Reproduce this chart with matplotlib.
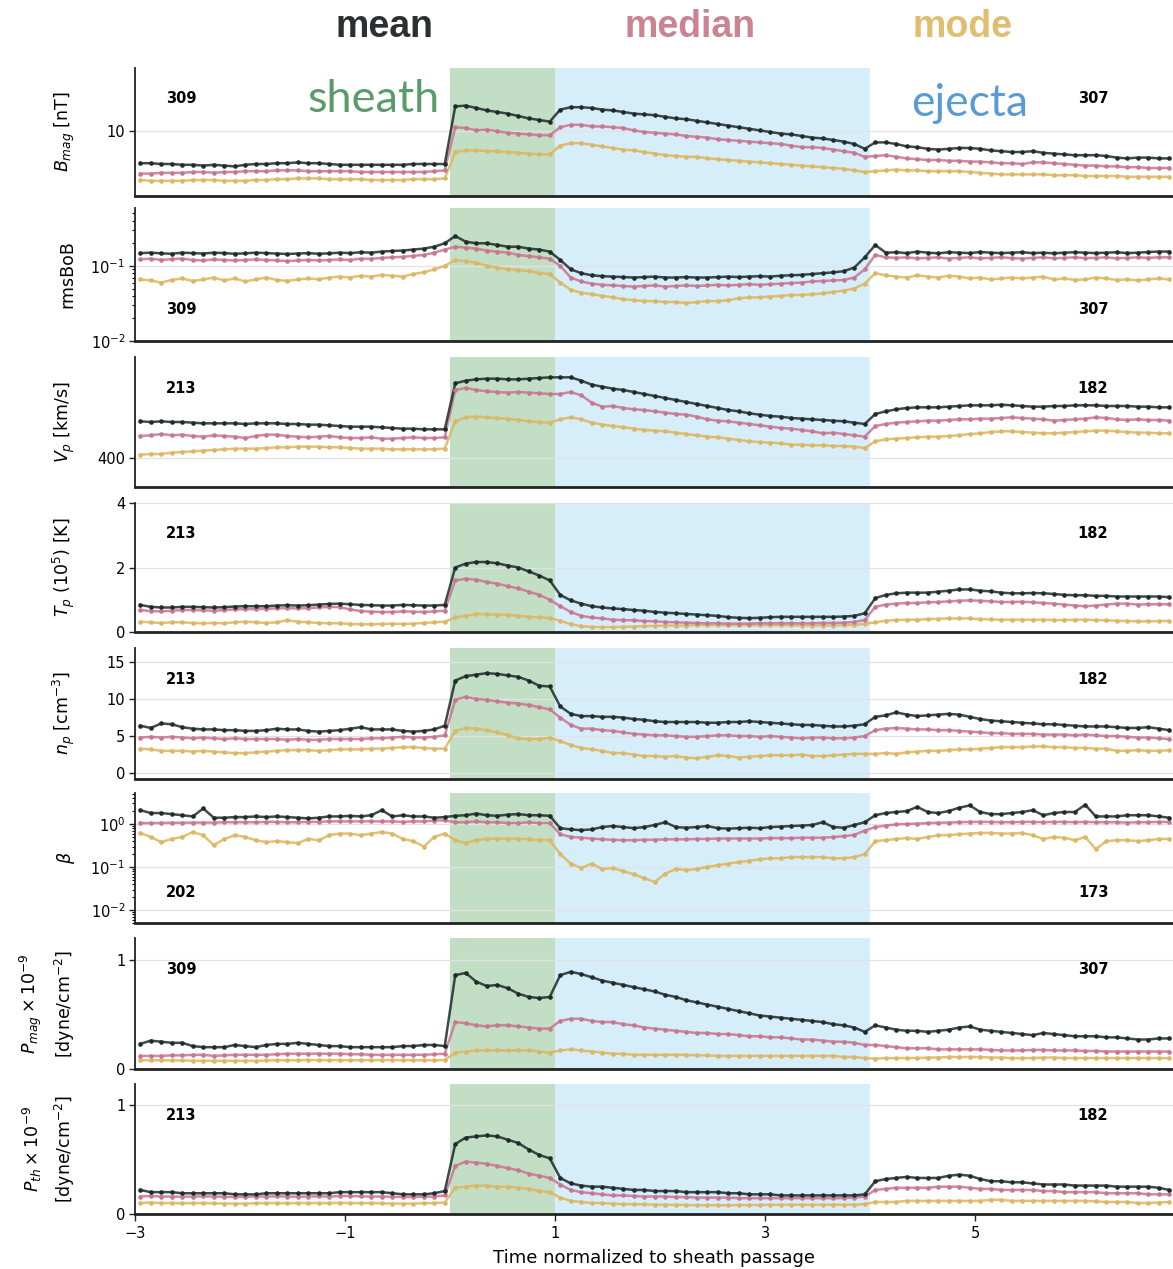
import numpy as np
import matplotlib
matplotlib.use("Agg")
import matplotlib.pyplot as plt
from matplotlib.ticker import LogLocator, NullFormatter, FixedLocator

# ---------------- data (bins of 0.1 normalized time, centres -2.95 ... 6.85) ----------------
time = np.linspace(-2.95, 6.85, 99)

B_mean = [6.0, 6.0, 5.9, 5.9, 5.8, 5.8, 5.7, 5.8, 5.7, 5.6, 5.8, 5.9, 5.9, 6.0, 6.0, 6.1, 6.0, 6.0, 5.9, 5.8, 5.8, 5.8, 5.8, 5.8, 5.8, 5.8, 5.9, 5.9, 5.9, 5.9,
          13.1, 13.2, 12.9, 12.6, 12.4, 12.2, 11.9, 11.6, 11.4, 11.2,
          12.7, 13.0, 13.0, 12.9, 12.7, 12.6, 12.4, 12.2, 12.1, 12.0, 11.8, 11.6, 11.5, 11.3, 11.1, 10.9, 10.7, 10.5, 10.3, 10.1, 9.9, 9.7, 9.6, 9.4, 9.2, 9.1, 8.9, 8.7, 8.4, 7.8,
          8.6, 8.6, 8.4, 8.1, 8.0, 7.8, 7.7, 7.8, 7.9, 7.9, 7.8, 7.6, 7.5, 7.4, 7.4, 7.5, 7.3, 7.2, 7.1, 7.0, 7.0, 7.0, 6.9, 6.7, 6.6, 6.7, 6.7, 6.6, 6.6]
B_median = [4.7, 4.7, 4.8, 4.8, 4.8, 4.9, 4.9, 4.8, 4.9, 4.9, 5.0, 5.0, 5.0, 5.1, 5.1, 5.1, 5.0, 5.0, 5.0, 5.0, 5.0, 4.9, 4.9, 4.9, 4.9, 4.9, 4.9, 4.9, 5.0, 5.1,
            10.5, 10.4, 10.1, 10.2, 10.0, 9.8, 9.7, 9.6, 9.5, 9.5,
            10.5, 10.8, 10.8, 10.6, 10.6, 10.5, 10.4, 10.1, 9.9, 9.8, 9.7, 9.6, 9.4, 9.3, 9.2, 9.0, 8.9, 8.8, 8.7, 8.6, 8.5, 8.4, 8.2, 8.0, 8.0, 7.9, 7.7, 7.5, 7.3, 6.8,
            6.9, 7.0, 6.8, 6.6, 6.5, 6.4, 6.4, 6.3, 6.3, 6.2, 6.2, 6.1, 6.0, 6.0, 5.9, 6.1, 6.1, 6.0, 5.9, 5.8, 5.7, 5.7, 5.6, 5.6, 5.5, 5.5, 5.4, 5.4, 5.4]
B_mode = [3.9, 3.8, 3.8, 3.8, 3.8, 3.9, 3.9, 3.9, 3.8, 3.8, 3.8, 3.9, 3.9, 4.0, 4.0, 4.1, 4.1, 4.1, 4.0, 4.0, 4.0, 4.0, 3.9, 3.9, 3.9, 3.9, 4.0, 4.0, 4.0, 4.1,
          7.4, 7.6, 7.6, 7.5, 7.5, 7.4, 7.3, 7.2, 7.1, 7.1,
          8.2, 8.5, 8.5, 8.3, 8.1, 7.9, 7.7, 7.6, 7.4, 7.2, 7.0, 6.9, 6.8, 6.8, 6.6, 6.5, 6.4, 6.3, 6.2, 6.1, 6.0, 5.9, 5.8, 5.7, 5.6, 5.5, 5.4, 5.3, 5.1, 4.9,
          5.0, 5.1, 5.2, 5.1, 5.1, 5.0, 5.0, 5.0, 5.0, 4.9, 4.8, 4.7, 4.6, 4.6, 4.6, 4.6, 4.6, 4.5, 4.5, 4.5, 4.4, 4.4, 4.4, 4.4, 4.3, 4.3, 4.3, 4.3, 4.3]

rms_mean = [0.148, 0.15, 0.147, 0.145, 0.15, 0.148, 0.146, 0.15, 0.148, 0.145, 0.147, 0.15, 0.148, 0.146, 0.144, 0.146, 0.148, 0.145, 0.147, 0.15, 0.148, 0.152, 0.15, 0.155, 0.158, 0.16, 0.165, 0.17, 0.18, 0.2,
            0.25, 0.21, 0.2, 0.2, 0.19, 0.18, 0.18, 0.17, 0.165, 0.155,
            0.12, 0.09, 0.08, 0.075, 0.073, 0.072, 0.071, 0.07, 0.071, 0.072, 0.07, 0.07, 0.071, 0.07, 0.07, 0.071, 0.072, 0.071, 0.072, 0.073, 0.072, 0.074, 0.075, 0.076, 0.078, 0.08, 0.082, 0.085, 0.095, 0.13,
            0.19, 0.15, 0.152, 0.148, 0.155, 0.15, 0.147, 0.152, 0.15, 0.148, 0.153, 0.15, 0.148, 0.15, 0.152, 0.148, 0.15, 0.147, 0.15, 0.152, 0.15, 0.148, 0.15, 0.152, 0.148, 0.15, 0.153, 0.155, 0.155]
rms_median = [0.122, 0.125, 0.12, 0.123, 0.125, 0.12, 0.118, 0.122, 0.12, 0.118, 0.12, 0.122, 0.12, 0.118, 0.116, 0.118, 0.12, 0.118, 0.12, 0.122, 0.12, 0.125, 0.124, 0.128, 0.13, 0.132, 0.136, 0.14, 0.15, 0.165,
              0.18, 0.175, 0.17, 0.16, 0.155, 0.15, 0.14, 0.135, 0.13, 0.125,
              0.1, 0.07, 0.062, 0.058, 0.056, 0.055, 0.054, 0.053, 0.054, 0.055, 0.053, 0.054, 0.055, 0.054, 0.055, 0.056, 0.055, 0.056, 0.057, 0.056, 0.057, 0.058, 0.059, 0.06, 0.062, 0.063, 0.064, 0.065, 0.07, 0.09,
              0.14, 0.13, 0.128, 0.13, 0.126, 0.128, 0.13, 0.125, 0.128, 0.13, 0.126, 0.128, 0.13, 0.127, 0.125, 0.128, 0.13, 0.126, 0.128, 0.13, 0.127, 0.128, 0.13, 0.126, 0.128, 0.13, 0.128, 0.13, 0.13]
rms_mode = [0.066, 0.064, 0.06, 0.065, 0.068, 0.063, 0.066, 0.07, 0.064, 0.068, 0.062, 0.066, 0.07, 0.065, 0.063, 0.066, 0.068, 0.066, 0.07, 0.072, 0.07, 0.074, 0.072, 0.076, 0.074, 0.072, 0.078, 0.082, 0.09, 0.1,
            0.12, 0.115, 0.11, 0.1, 0.095, 0.09, 0.088, 0.085, 0.08, 0.078,
            0.06, 0.048, 0.044, 0.042, 0.04, 0.038, 0.036, 0.035, 0.034, 0.034, 0.033, 0.033, 0.032, 0.033, 0.034, 0.034, 0.035, 0.037, 0.038, 0.038, 0.039, 0.04, 0.041, 0.041, 0.042, 0.043, 0.045, 0.047, 0.05, 0.058,
            0.08, 0.075, 0.072, 0.07, 0.075, 0.072, 0.07, 0.074, 0.072, 0.068, 0.07, 0.066, 0.068, 0.07, 0.068, 0.07, 0.072, 0.066, 0.068, 0.065, 0.066, 0.07, 0.068, 0.065, 0.066, 0.064, 0.066, 0.068, 0.066]

V_mean = [455, 454, 455, 454, 454, 453, 452, 452, 452, 452, 451, 452, 452, 452, 451, 451, 450, 450, 449, 448, 447, 447, 447, 446, 445, 444, 444, 443, 443, 443,
          512, 516, 518, 519, 519, 518, 518, 519, 520, 521,
          521, 521, 516, 510, 507, 504, 502, 499, 496, 493, 490, 487, 484, 481, 478, 475, 472, 470, 467, 465, 463, 462, 460, 459, 458, 457, 456, 455, 453, 451,
          466, 470, 473, 475, 476, 476, 476, 477, 478, 479, 479, 479, 480, 479, 478, 477, 477, 478, 478, 479, 479, 479, 478, 478, 478, 477, 477, 476, 476]
V_median = [433, 434, 436, 434, 435, 433, 432, 434, 433, 432, 430, 433, 435, 435, 433, 432, 431, 432, 433, 431, 430, 430, 431, 429, 429, 430, 431, 430, 430, 431,
            502, 505, 502, 500, 499, 498, 499, 498, 497, 496,
            496, 499, 494, 483, 477, 478, 475, 473, 472, 470, 468, 466, 465, 462, 458, 456, 455, 453, 451, 449, 447, 445, 444, 442, 440, 437, 438, 436, 434, 432,
            448, 451, 453, 454, 455, 456, 456, 457, 458, 458, 459, 459, 460, 461, 460, 459, 458, 456, 457, 458, 459, 461, 460, 458, 457, 458, 457, 457, 456]
V_mode = [405, 406, 406, 408, 409, 410, 411, 412, 413, 414, 414, 414, 415, 416, 416, 417, 417, 417, 416, 416, 415, 414, 414, 414, 413, 413, 413, 413, 413, 414,
          455, 461, 462, 461, 460, 459, 457, 455, 454, 453,
          458, 461, 458, 453, 450, 448, 446, 444, 442, 441, 440, 438, 436, 434, 432, 431, 429, 427, 425, 424, 423, 422, 420, 420, 419, 419, 418, 418, 417, 415,
          425, 428, 429, 430, 431, 432, 432, 433, 434, 436, 437, 439, 440, 440, 439, 438, 437, 437, 438, 439, 440, 441, 441, 440, 439, 438, 438, 437, 437]

T_mean = [0.84, 0.78, 0.76, 0.76, 0.78, 0.78, 0.77, 0.76, 0.77, 0.79, 0.8, 0.8, 0.8, 0.82, 0.83, 0.82, 0.83, 0.85, 0.87, 0.88, 0.86, 0.84, 0.83, 0.82, 0.82, 0.84, 0.83, 0.82, 0.82, 0.84,
          2.0, 2.12, 2.17, 2.17, 2.13, 2.06, 2.0, 1.88, 1.75, 1.6,
          1.15, 0.98, 0.88, 0.8, 0.76, 0.73, 0.71, 0.68, 0.66, 0.62, 0.6, 0.58, 0.56, 0.54, 0.52, 0.5, 0.46, 0.44, 0.43, 0.44, 0.46, 0.47, 0.47, 0.47, 0.47, 0.47, 0.47, 0.48, 0.5, 0.58,
          1.05, 1.15, 1.2, 1.22, 1.22, 1.22, 1.25, 1.28, 1.32, 1.32, 1.28, 1.26, 1.22, 1.2, 1.2, 1.21, 1.2, 1.18, 1.15, 1.14, 1.14, 1.12, 1.12, 1.1, 1.1, 1.1, 1.1, 1.1, 1.08]
T_median = [0.68, 0.65, 0.64, 0.66, 0.68, 0.68, 0.67, 0.66, 0.68, 0.7, 0.71, 0.71, 0.72, 0.73, 0.74, 0.73, 0.74, 0.76, 0.78, 0.77, 0.7, 0.65, 0.63, 0.62, 0.62, 0.64, 0.63, 0.62, 0.64, 0.66,
            1.6, 1.65, 1.62, 1.55, 1.5, 1.42, 1.35, 1.25, 1.15, 1.0,
            0.8, 0.62, 0.5, 0.45, 0.42, 0.38, 0.37, 0.36, 0.34, 0.33, 0.31, 0.3, 0.29, 0.28, 0.27, 0.27, 0.26, 0.26, 0.26, 0.27, 0.27, 0.27, 0.27, 0.27, 0.27, 0.28, 0.28, 0.29, 0.31, 0.37,
            0.78, 0.85, 0.88, 0.9, 0.9, 0.92, 0.93, 0.95, 0.97, 0.98, 0.97, 0.95, 0.93, 0.93, 0.94, 0.92, 0.9, 0.88, 0.85, 0.82, 0.8, 0.82, 0.85, 0.88, 0.88, 0.85, 0.86, 0.86, 0.86]
T_mode = [0.32, 0.3, 0.28, 0.3, 0.3, 0.28, 0.27, 0.28, 0.27, 0.3, 0.32, 0.3, 0.28, 0.3, 0.36, 0.32, 0.3, 0.28, 0.27, 0.27, 0.25, 0.24, 0.24, 0.25, 0.26, 0.25, 0.26, 0.28, 0.3, 0.32,
          0.45, 0.5, 0.56, 0.55, 0.54, 0.53, 0.5, 0.47, 0.46, 0.43,
          0.35, 0.24, 0.18, 0.16, 0.15, 0.15, 0.16, 0.17, 0.18, 0.19, 0.2, 0.2, 0.2, 0.21, 0.21, 0.21, 0.21, 0.21, 0.21, 0.21, 0.21, 0.21, 0.21, 0.2, 0.2, 0.2, 0.2, 0.21, 0.22, 0.25,
          0.3, 0.35, 0.37, 0.38, 0.38, 0.4, 0.41, 0.42, 0.42, 0.42, 0.4, 0.39, 0.38, 0.38, 0.38, 0.38, 0.38, 0.37, 0.37, 0.38, 0.38, 0.37, 0.36, 0.35, 0.34, 0.33, 0.33, 0.34, 0.34]

n_mean = [6.4, 6.1, 6.7, 6.6, 6.2, 6.0, 5.9, 5.9, 5.8, 5.8, 5.7, 5.7, 5.8, 6.0, 5.9, 5.9, 5.7, 5.6, 5.7, 5.8, 6.0, 6.2, 5.9, 5.9, 5.9, 5.7, 5.6, 5.7, 5.9, 6.4,
          12.5, 13.1, 13.3, 13.5, 13.4, 13.2, 13.0, 12.5, 11.8, 11.7,
          9.0, 8.0, 7.7, 7.7, 7.6, 7.6, 7.5, 7.3, 7.2, 7.0, 6.9, 6.9, 6.9, 6.9, 6.8, 6.8, 6.9, 6.9, 7.0, 6.9, 6.8, 6.7, 6.6, 6.5, 6.5, 6.4, 6.3, 6.3, 6.4, 6.6,
          7.6, 7.8, 8.2, 7.9, 7.7, 7.8, 7.9, 8.0, 7.9, 7.6, 7.3, 7.1, 7.0, 6.9, 6.8, 6.7, 6.6, 6.6, 6.5, 6.4, 6.3, 6.3, 6.3, 6.2, 6.1, 6.1, 6.2, 6.0, 5.8]
n_median = [4.8, 4.9, 4.8, 4.9, 4.8, 4.7, 4.8, 4.7, 4.6, 4.7, 4.6, 4.6, 4.6, 4.6, 4.5, 4.6, 4.5, 4.5, 4.6, 4.6, 4.6, 4.6, 4.7, 4.7, 4.8, 4.9, 4.8, 4.8, 4.9, 5.1,
            9.9, 10.3, 10.0, 9.9, 9.7, 9.5, 9.4, 9.2, 8.9, 8.6,
            7.5, 6.5, 6.0, 6.0, 5.8, 5.7, 5.5, 5.3, 5.2, 5.1, 5.1, 5.0, 4.9, 4.9, 5.0, 5.1, 5.1, 5.0, 5.0, 4.9, 5.0, 4.9, 4.8, 4.7, 4.8, 4.8, 4.7, 4.7, 4.8, 5.0,
            5.8, 6.0, 6.1, 6.0, 5.9, 5.9, 5.8, 5.8, 5.7, 5.6, 5.5, 5.4, 5.4, 5.3, 5.3, 5.3, 5.2, 5.2, 5.2, 5.1, 5.2, 5.1, 5.0, 5.0, 4.9, 4.8, 4.8, 4.7, 4.6]
n_mode = [3.3, 3.2, 3.0, 3.0, 3.0, 2.9, 3.0, 2.9, 2.8, 2.7, 2.7, 2.8, 2.9, 3.0, 3.1, 3.1, 3.1, 3.0, 3.1, 3.2, 3.2, 3.2, 3.3, 3.3, 3.4, 3.5, 3.5, 3.4, 3.3, 3.3,
          5.7, 6.1, 6.0, 5.8, 5.5, 5.1, 4.7, 4.6, 4.6, 4.8,
          4.3, 3.8, 3.4, 3.2, 3.0, 2.7, 2.7, 2.5, 2.3, 2.3, 2.2, 2.3, 2.1, 2.0, 2.2, 2.4, 2.3, 2.1, 2.2, 2.3, 2.4, 2.4, 2.4, 2.5, 2.3, 2.3, 2.4, 2.5, 2.6, 2.6,
          2.6, 2.7, 2.6, 2.8, 2.9, 3.0, 3.0, 3.1, 3.2, 3.2, 3.3, 3.4, 3.5, 3.5, 3.5, 3.6, 3.6, 3.5, 3.5, 3.4, 3.4, 3.3, 3.3, 3.0, 3.0, 3.1, 3.0, 3.0, 3.1]

beta_mean = [2.1, 1.8, 1.8, 1.7, 1.6, 1.5, 2.3, 1.4, 1.4, 1.45, 1.45, 1.5, 1.45, 1.5, 1.45, 1.4, 1.35, 1.4, 1.5, 1.5, 1.55, 1.5, 1.6, 2.1, 1.5, 1.6, 1.5, 1.5, 1.4, 1.45,
             1.55, 1.6, 1.75, 1.6, 1.55, 1.65, 1.7, 1.6, 1.6, 1.55,
             0.8, 0.75, 0.72, 0.75, 0.85, 0.9, 0.85, 0.8, 0.85, 0.95, 1.1, 0.85, 0.82, 0.85, 0.9, 0.8, 0.78, 0.8, 0.82, 0.8, 0.85, 0.87, 0.9, 0.92, 0.95, 1.1, 0.85, 0.82, 0.95, 1.1,
             1.6, 1.8, 1.9, 2.0, 2.5, 1.9, 1.8, 2.0, 2.4, 2.7, 1.9, 1.7, 1.7, 1.8, 1.9, 2.1, 1.6, 1.8, 1.9, 1.9, 2.8, 1.5, 1.5, 1.5, 1.6, 1.6, 1.6, 1.5, 1.4]
beta_median = [1.05, 1.05, 1.06, 1.07, 1.07, 1.08, 1.08, 1.08, 1.1, 1.1, 1.1, 1.1, 1.12, 1.12, 1.1, 1.1, 1.12, 1.12, 1.15, 1.15, 1.15, 1.15, 1.15, 1.15, 1.15, 1.12, 1.15, 1.15, 1.2, 1.22,
               1.1, 1.1, 1.15, 1.1, 1.1, 1.05, 1.05, 1.1, 1.05, 1.05,
               0.58, 0.5, 0.48, 0.46, 0.44, 0.43, 0.42, 0.42, 0.43, 0.43, 0.44, 0.44, 0.44, 0.45, 0.45, 0.46, 0.46, 0.46, 0.46, 0.46, 0.47, 0.47, 0.47, 0.48, 0.48, 0.48, 0.5, 0.52, 0.56, 0.7,
               0.85, 0.92, 0.98, 1.0, 1.02, 1.05, 1.07, 1.08, 1.1, 1.12, 1.12, 1.12, 1.1, 1.1, 1.12, 1.12, 1.1, 1.12, 1.12, 1.1, 1.12, 1.1, 1.1, 1.1, 1.08, 1.1, 1.1, 1.12, 1.12]
beta_mode = [0.62, 0.5, 0.38, 0.45, 0.5, 0.65, 0.55, 0.32, 0.45, 0.55, 0.5, 0.42, 0.38, 0.4, 0.38, 0.36, 0.45, 0.42, 0.55, 0.6, 0.6, 0.55, 0.6, 0.65, 0.6, 0.45, 0.4, 0.3, 0.5, 0.6,
             0.42, 0.36, 0.42, 0.45, 0.46, 0.45, 0.46, 0.44, 0.43, 0.42,
             0.2, 0.12, 0.095, 0.12, 0.09, 0.095, 0.08, 0.068, 0.055, 0.045, 0.07, 0.09, 0.085, 0.09, 0.1, 0.11, 0.12, 0.13, 0.14, 0.15, 0.16, 0.16, 0.17, 0.17, 0.17, 0.17, 0.16, 0.16, 0.17, 0.2,
             0.4, 0.42, 0.45, 0.47, 0.45, 0.5, 0.55, 0.55, 0.58, 0.6, 0.62, 0.62, 0.6, 0.6, 0.62, 0.55, 0.45, 0.5, 0.48, 0.42, 0.5, 0.26, 0.4, 0.42, 0.42, 0.4, 0.42, 0.45, 0.45]

Pmag_mean = [0.23, 0.26, 0.25, 0.24, 0.24, 0.21, 0.2, 0.2, 0.2, 0.22, 0.21, 0.2, 0.22, 0.23, 0.23, 0.24, 0.23, 0.22, 0.21, 0.21, 0.2, 0.2, 0.2, 0.2, 0.2, 0.21, 0.21, 0.22, 0.22, 0.21,
             0.86, 0.88, 0.8, 0.76, 0.77, 0.74, 0.69, 0.66, 0.65, 0.66,
             0.86, 0.89, 0.87, 0.84, 0.81, 0.79, 0.77, 0.75, 0.73, 0.71, 0.68, 0.66, 0.63, 0.61, 0.59, 0.57, 0.55, 0.53, 0.51, 0.49, 0.48, 0.47, 0.46, 0.45, 0.44, 0.43, 0.41, 0.4, 0.38, 0.34,
             0.4, 0.38, 0.36, 0.35, 0.35, 0.34, 0.35, 0.36, 0.38, 0.39, 0.36, 0.35, 0.34, 0.33, 0.32, 0.31, 0.33, 0.32, 0.31, 0.3, 0.3, 0.3, 0.29, 0.29, 0.28, 0.27, 0.27, 0.28, 0.28]
Pmag_median = [0.12, 0.12, 0.12, 0.125, 0.125, 0.13, 0.13, 0.12, 0.125, 0.13, 0.13, 0.13, 0.13, 0.135, 0.14, 0.14, 0.14, 0.14, 0.14, 0.14, 0.135, 0.135, 0.13, 0.13, 0.13, 0.13, 0.13, 0.13, 0.135, 0.14,
               0.43, 0.42, 0.4, 0.39, 0.4, 0.4, 0.39, 0.38, 0.37, 0.37,
               0.44, 0.46, 0.46, 0.44, 0.43, 0.43, 0.41, 0.4, 0.38, 0.37, 0.36, 0.35, 0.34, 0.33, 0.33, 0.32, 0.32, 0.31, 0.3, 0.3, 0.29, 0.29, 0.28, 0.27, 0.27, 0.26, 0.25, 0.25, 0.24, 0.22,
               0.22, 0.21, 0.2, 0.19, 0.19, 0.19, 0.18, 0.18, 0.18, 0.18, 0.18, 0.175, 0.17, 0.17, 0.17, 0.175, 0.175, 0.17, 0.17, 0.17, 0.165, 0.165, 0.16, 0.16, 0.16, 0.16, 0.16, 0.16, 0.16]
Pmag_mode = [0.08, 0.08, 0.08, 0.078, 0.078, 0.076, 0.076, 0.075, 0.075, 0.075, 0.075, 0.074, 0.078, 0.08, 0.08, 0.08, 0.082, 0.082, 0.08, 0.08, 0.08, 0.08, 0.08, 0.082, 0.082, 0.08, 0.08, 0.08, 0.08, 0.082,
             0.15, 0.16, 0.17, 0.17, 0.17, 0.17, 0.17, 0.17, 0.16, 0.15,
             0.17, 0.18, 0.17, 0.16, 0.15, 0.14, 0.14, 0.13, 0.13, 0.13, 0.13, 0.13, 0.13, 0.125, 0.125, 0.12, 0.12, 0.12, 0.12, 0.12, 0.12, 0.12, 0.12, 0.12, 0.12, 0.12, 0.12, 0.11, 0.11, 0.1,
             0.095, 0.1, 0.1, 0.1, 0.1, 0.105, 0.105, 0.11, 0.11, 0.11, 0.11, 0.105, 0.105, 0.1, 0.1, 0.1, 0.105, 0.105, 0.1, 0.1, 0.1, 0.1, 0.1, 0.1, 0.1, 0.1, 0.1, 0.1, 0.1]

Pth_mean = [0.22, 0.2, 0.2, 0.2, 0.19, 0.19, 0.19, 0.19, 0.19, 0.18, 0.18, 0.18, 0.19, 0.19, 0.19, 0.19, 0.19, 0.19, 0.19, 0.2, 0.2, 0.2, 0.2, 0.2, 0.19, 0.18, 0.18, 0.18, 0.19, 0.21,
            0.64, 0.7, 0.71, 0.72, 0.71, 0.68, 0.65, 0.59, 0.54, 0.51,
            0.33, 0.28, 0.26, 0.25, 0.25, 0.24, 0.23, 0.22, 0.22, 0.21, 0.21, 0.21, 0.2, 0.2, 0.2, 0.2, 0.19, 0.19, 0.18, 0.18, 0.18, 0.17, 0.17, 0.17, 0.17, 0.17, 0.17, 0.17, 0.17, 0.18,
            0.3, 0.32, 0.33, 0.34, 0.33, 0.33, 0.33, 0.35, 0.36, 0.35, 0.32, 0.3, 0.3, 0.29, 0.29, 0.28, 0.27, 0.27, 0.27, 0.26, 0.26, 0.26, 0.26, 0.25, 0.25, 0.25, 0.25, 0.24, 0.22]
Pth_median = [0.16, 0.165, 0.16, 0.16, 0.158, 0.16, 0.162, 0.16, 0.158, 0.155, 0.158, 0.16, 0.16, 0.162, 0.16, 0.158, 0.16, 0.162, 0.16, 0.165, 0.165, 0.162, 0.16, 0.16, 0.158, 0.155, 0.155, 0.158, 0.16, 0.17,
              0.44, 0.48, 0.47, 0.46, 0.44, 0.42, 0.4, 0.37, 0.35, 0.33,
              0.27, 0.22, 0.2, 0.19, 0.18, 0.17, 0.17, 0.165, 0.16, 0.16, 0.16, 0.155, 0.155, 0.15, 0.15, 0.15, 0.15, 0.145, 0.145, 0.145, 0.145, 0.145, 0.145, 0.145, 0.145, 0.145, 0.145, 0.145, 0.15, 0.16,
              0.22, 0.23, 0.24, 0.24, 0.24, 0.24, 0.25, 0.25, 0.25, 0.24, 0.23, 0.23, 0.22, 0.22, 0.22, 0.22, 0.21, 0.21, 0.2, 0.2, 0.2, 0.2, 0.19, 0.19, 0.19, 0.19, 0.18, 0.18, 0.18]
Pth_mode = [0.1, 0.105, 0.1, 0.1, 0.098, 0.1, 0.1, 0.098, 0.096, 0.095, 0.096, 0.098, 0.1, 0.1, 0.098, 0.1, 0.1, 0.1, 0.1, 0.102, 0.1, 0.1, 0.1, 0.098, 0.096, 0.095, 0.096, 0.098, 0.1, 0.105,
            0.24, 0.25, 0.26, 0.26, 0.25, 0.25, 0.24, 0.23, 0.21, 0.2,
            0.15, 0.12, 0.11, 0.1, 0.1, 0.095, 0.09, 0.09, 0.088, 0.085, 0.085, 0.083, 0.083, 0.08, 0.08, 0.08, 0.08, 0.082, 0.082, 0.083, 0.084, 0.085, 0.085, 0.085, 0.085, 0.085, 0.085, 0.085, 0.086, 0.09,
            0.11, 0.11, 0.11, 0.12, 0.12, 0.12, 0.12, 0.12, 0.12, 0.12, 0.12, 0.13, 0.13, 0.12, 0.12, 0.12, 0.12, 0.12, 0.12, 0.12, 0.12, 0.115, 0.11, 0.11, 0.11, 0.1, 0.1, 0.105, 0.11]

ylabels = [r"$B_{mag}$ [nT]", "rmsBoB", r"$V_p$ [km/s]", r"$T_p\ (10^5)$ [K]",
           r"$n_p$ [cm$^{-3}$]", r"$\beta$",
           "$P_{mag} \\times 10^{-9}$\n[dyne/cm$^{-2}$]",
           "$P_{th} \\times 10^{-9}$\n[dyne/cm$^{-2}$]"]
counts_left = ["309", "309", "213", "213", "213", "202", "309", "213"]
counts_right = ["307", "307", "182", "182", "182", "173", "307", "182"]
xtick_vals = [-3, -1, 1, 3, 5]

panels = [
    (B_mean, B_median, B_mode),
    (rms_mean, rms_median, rms_mode),
    (V_mean, V_median, V_mode),
    (T_mean, T_median, T_mode),
    (n_mean, n_median, n_mode),
    (beta_mean, beta_median, beta_mode),
    (Pmag_mean, Pmag_median, Pmag_mode),
    (Pth_mean, Pth_median, Pth_mode),
]

# ---------------- styling / layout ----------------
C_MEAN = "#1f2a2a"
C_MED = "#c8758f"
C_MODE = "#dcb660"
C_SHEATH = "#c2dfc5"
C_EJECTA = "#d5eefa"

W, H = 1173, 1269
fig = plt.figure(figsize=(W / 100, H / 100), dpi=100)

tops = [68, 208, 357, 503, 648, 793, 938, 1084]
bots = [196, 341, 487, 632, 779, 923, 1069, 1214]
left_px = 135
xlim = (-3, -3 + (W - left_px) / 105.0)

ylims = [(1.9, 17.9), (0.01, 0.59), (356.5, 551.5), (0, 4.0), (-0.8, 16.9),
         (0.005, 5.26), (0, 1.2), (0, 1.19)]
logs = [False, True, False, False, False, True, False, False]
yticks = [[10], [0.01, 0.1], [400], [0, 2, 4], [0, 5, 10, 15], [0.01, 0.1, 1], [0, 1], [0, 1]]
count_y = [0.765, 0.235, 0.755, 0.76, 0.763, 0.238, 0.756, 0.76]

for i in range(8):
    ax = fig.add_axes([left_px / W, 1 - bots[i] / H, 1 - left_px / W, (bots[i] - tops[i]) / H])
    ax.axvspan(0, 1, color=C_SHEATH, lw=0, zorder=0)
    ax.axvspan(1, 4, color=C_EJECTA, lw=0, zorder=0)
    mean, med, mode = panels[i]
    for vals, col in ((mode, C_MODE), (med, C_MED), (mean, C_MEAN)):
        ax.plot(time, vals, "-", color=col, lw=1.8, alpha=0.85, zorder=3)
        ax.plot(time, vals, "o", color=col, ms=3.3, mew=0, zorder=4)
    if logs[i]:
        ax.set_yscale("log")
        ax.yaxis.set_major_locator(FixedLocator(yticks[i]))
        ax.yaxis.set_minor_locator(LogLocator(base=10, subs=np.arange(2, 10)))
        ax.yaxis.set_minor_formatter(NullFormatter())
    else:
        ax.set_yticks(yticks[i])
        if i == 0:
            ax.set_yticklabels(["10"])
    ax.set_ylim(*ylims[i])
    ax.set_xlim(*xlim)
    ax.grid(axis="y", which="major", color="#e2e2e2", lw=0.9, zorder=1)
    ax.set_axisbelow(True)
    for s in ("top", "right"):
        ax.spines[s].set_visible(False)
    ax.spines["left"].set_linewidth(1.3)
    ax.spines["bottom"].set_linewidth(2.0)
    ax.spines["left"].set_color("#222222")
    ax.spines["bottom"].set_color("#222222")
    ax.tick_params(axis="y", labelsize=10.5, length=4, width=1.0, color="#222222", pad=3)
    ax.tick_params(axis="y", which="minor", length=2.5, width=0.8)
    ax.set_ylabel(ylabels[i], fontsize=12.5, linespacing=1.5)
    ax.yaxis.set_label_coords(-0.056, 0.5)
    ax.text(0.0443, count_y[i], counts_left[i], transform=ax.transAxes, ha="center",
            va="center", fontsize=10.5, fontweight="bold", zorder=6)
    ax.text(0.923, count_y[i], counts_right[i], transform=ax.transAxes, ha="center",
            va="center", fontsize=10.5, fontweight="bold", zorder=6)
    if i < 7:
        ax.set_xticks([])
    else:
        ax.set_xticks(xtick_vals)
        ax.set_xticklabels([str(v).replace("-", "\u2212") for v in xtick_vals])
        ax.tick_params(axis="x", labelsize=10.5, length=5, width=1.0, color="#222222")
        ax.set_xlabel("Time normalized to sheath passage", fontsize=13, labelpad=6)

# header words
hfont = ["Liberation Sans Narrow", "Liberation Sans", "DejaVu Sans"]
fig.text(385 / W, 1 - 27 / H, "mean", ha="center", va="center", fontsize=27,
         fontweight="bold", color="#2b2f31", family=hfont)
fig.text(690 / W, 1 - 27 / H, "median", ha="center", va="center", fontsize=27,
         fontweight="bold", color="#c9848f", family=hfont)
fig.text(962 / W, 1 - 27 / H, "mode", ha="center", va="center", fontsize=27,
         fontweight="bold", color="#dfbe6f", family=hfont)
fig.text(374 / W, 1 - 100 / H, "sheath", ha="center", va="center", fontsize=32.5,
         color="#5a9a6c", family=["Lato", "DejaVu Sans"])
fig.text(970 / W, 1 - 104 / H, "ejecta", ha="center", va="center", fontsize=32,
         color="#5b9bd5", family=["Lato", "DejaVu Sans"])

fig.savefig("out.png", dpi=100)
